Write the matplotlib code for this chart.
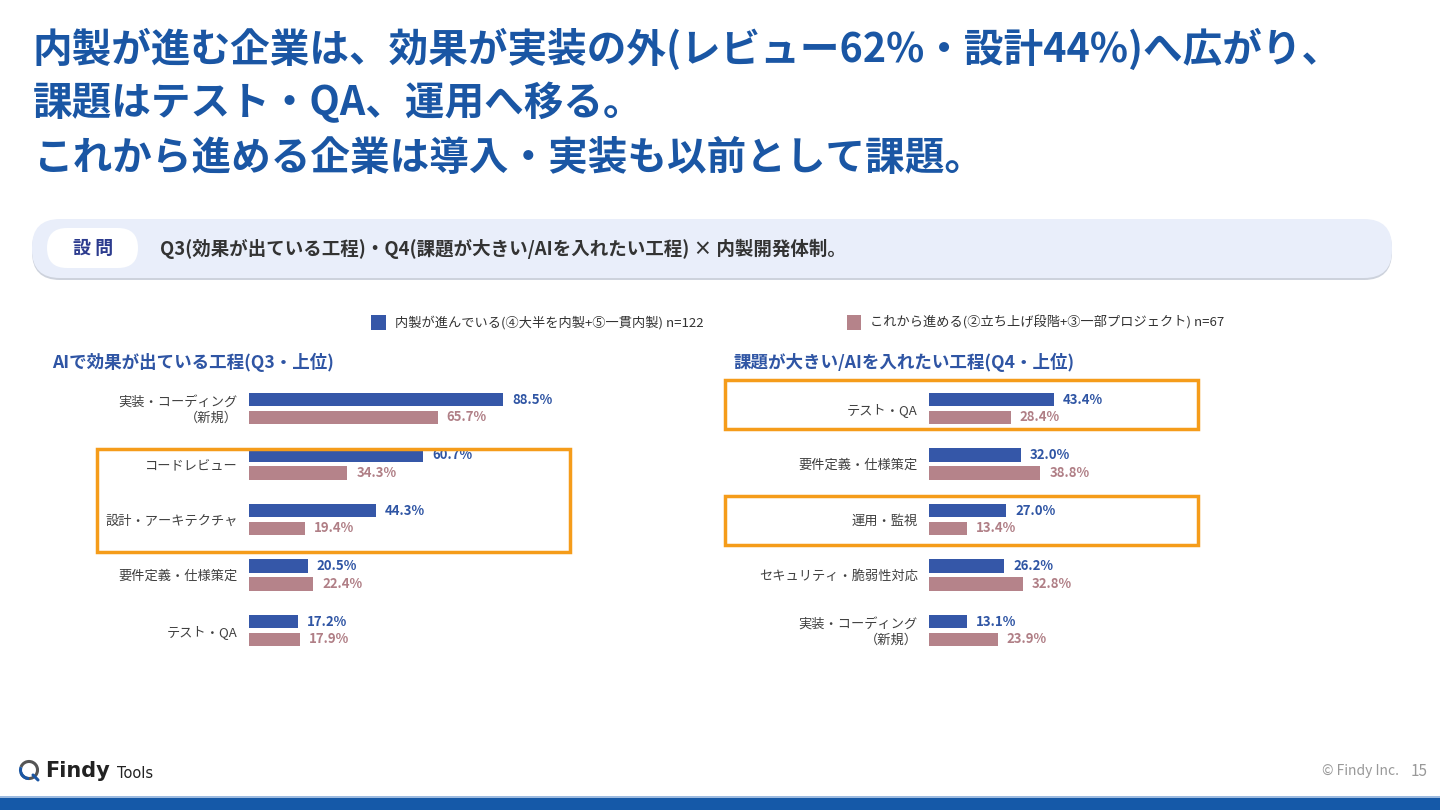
import numpy as np
import matplotlib.pyplot as plt
from matplotlib.patches import FancyBboxPatch, Rectangle, Arc

plt.rcParams['font.family'] = ['Noto Sans CJK JP', 'DejaVu Sans']

# ---- data ----
q3_labels = ['実装・コーディング\n（新規）', 'コードレビュー', '設計・アーキテクチャ',
             '要件定義・仕様策定', 'テスト・QA']
q3_inhouse = [88.5, 60.7, 44.3, 20.5, 17.2]
q3_starting = [65.7, 34.3, 19.4, 22.4, 17.9]

q4_labels = ['テスト・QA', '要件定義・仕様策定', '運用・監視',
             'セキュリティ・脆弱性対応', '実装・コーディング\n（新規）']
q4_inhouse = [43.4, 32.0, 27.0, 26.2, 13.1]
q4_starting = [28.4, 38.8, 13.4, 32.8, 23.9]

series_names = ['内製が進んでいる(④大半を内製+⑤一貫内製) n=122',
                'これから進める(②立ち上げ段階+③一部プロジェクト) n=67']

title_lines = ['内製が進む企業は、効果が実装の外(レビュー62%・設計44%)へ広がり、',
               '課題はテスト・QA、運用へ移る。',
               'これから進める企業は導入・実装も以前として課題。']

BLUE = '#3557a8'
PINK = '#b5838a'
BLUE_TXT = '#2f55a4'
PINK_TXT = '#b07f86'
ORANGE = '#f59c1a'
TITLE = '#1a56a4'

W, H = 1440, 810
fig = plt.figure(figsize=(14.4, 8.1), dpi=100)

# background axes in pixel units
bg = fig.add_axes([0, 0, 1, 1], zorder=0)
bg.set_xlim(0, W)
bg.set_ylim(H, 0)
bg.axis('off')

# title
for i, line in enumerate(title_lines):
    bg.text(33, 50 + 54 * i, line, fontsize=28.5, fontweight='bold',
            color=TITLE, ha='left', va='center')

# question box
bg.add_patch(FancyBboxPatch((32, 221), 1360, 59, boxstyle='round,pad=0,rounding_size=28',
                            fc='#cdd2dc', ec='none'))
bg.add_patch(FancyBboxPatch((32, 219), 1360, 59, boxstyle='round,pad=0,rounding_size=28',
                            fc='#e9eefa', ec='none'))
bg.add_patch(FancyBboxPatch((47, 228), 91, 40, boxstyle='round,pad=0,rounding_size=20',
                            fc='white', ec='none'))
bg.text(93, 248, '設 問', fontsize=13, fontweight='bold', color='#2c3b8e',
        ha='center', va='center')
bg.text(160, 249, 'Q3(効果が出ている工程)・Q4(課題が大きい/AIを入れたい工程) × 内製開発体制。',
        fontsize=13.3, fontweight='bold', color='#333333', ha='left', va='center')

# legend
bg.add_patch(Rectangle((371, 315), 15, 15, fc=BLUE, ec='none'))
bg.text(395, 323, series_names[0], fontsize=9.5, color='#333333', ha='left', va='center')
bg.add_patch(Rectangle((847, 315), 14, 15, fc=PINK, ec='none'))
bg.text(870, 323, series_names[1], fontsize=9.5, color='#333333', ha='left', va='center')

# panel headings
bg.text(52, 362, 'AIで効果が出ている工程(Q3・上位)', fontsize=12.6, fontweight='bold',
        color=BLUE_TXT, ha='left', va='center')
bg.text(733, 362, '課題が大きい/AIを入れたい工程(Q4・上位)', fontsize=12.6, fontweight='bold',
        color=BLUE_TXT, ha='left', va='center')


def px_axes(x0, y0, w, h):
    return fig.add_axes([x0 / W, 1 - (y0 + h) / H, w / W, h / H], zorder=2)


def draw_panel(ax, labels, a, b):
    y = np.arange(len(labels))
    off, bh = 0.162, 0.25
    ax.barh(y - off, a, height=bh, color=BLUE)
    ax.barh(y + off, b, height=bh, color=PINK)
    for yi, v in zip(y, a):
        ax.text(v + 3.1, yi - off, f'{v:.1f}%', fontsize=9.5, fontweight='bold',
                color=BLUE_TXT, ha='left', va='center')
    for yi, v in zip(y, b):
        ax.text(v + 3.1, yi + off, f'{v:.1f}%', fontsize=9.5, fontweight='bold',
                color=PINK_TXT, ha='left', va='center')
    ax.set_xlim(0, 100)
    ax.set_ylim(len(labels) - 0.5, -0.5)
    ax.set_yticks(y, labels)
    ax.set_xticks([])
    ax.tick_params(axis='y', length=0, pad=8, labelsize=9.5, labelcolor='#404040')
    for s in ax.spines.values():
        s.set_visible(False)
    ax.patch.set_alpha(0)


ax1 = px_axes(249, 380.75, 287, 277.5)
draw_panel(ax1, q3_labels, q3_inhouse, q3_starting)
ax2 = px_axes(929, 380.75, 287, 277.5)
draw_panel(ax2, q4_labels, q4_inhouse, q4_starting)

# highlight boxes (overlay)
ov = fig.add_axes([0, 0, 1, 1], zorder=5)
ov.set_xlim(0, W)
ov.set_ylim(H, 0)
ov.axis('off')
ov.patch.set_alpha(0)
for (x, y, w, h) in [(97, 449, 473, 103), (725, 380, 473, 49), (725, 496, 473, 49)]:
    ov.add_patch(Rectangle((x, y), w, h, fill=False, ec=ORANGE, lw=2.5))

# footer
bg.add_patch(Arc((29, 770), 17, 17, theta1=200, theta2=520, color='#555555', lw=2.2))
bg.add_patch(Arc((29, 770), 17, 17, theta1=90, theta2=200, color='#1a56a4', lw=2.2))
bg.plot([33, 38], [775, 780], color='#1a56a4', lw=2.2, solid_capstyle='round')
bg.text(45, 771, 'Findy', fontsize=15, fontweight='bold', color='#222222',
        ha='left', va='center', family=['DejaVu Sans'])
bg.text(117, 773, 'Tools', fontsize=10.5, color='#222222', ha='left', va='center',
        family=['DejaVu Sans'])
bg.text(1399, 771, '© Findy Inc.', fontsize=10, color='#999999', ha='right', va='center')
bg.text(1411, 771, '15', fontsize=11, color='#999999', ha='left', va='center')

bg.add_patch(Rectangle((0, 796), W, 2, fc='#9dbbe0', ec='none'))
bg.add_patch(Rectangle((0, 798), W, 12, fc='#1559a8', ec='none'))

fig.savefig('out.png', dpi=100)
